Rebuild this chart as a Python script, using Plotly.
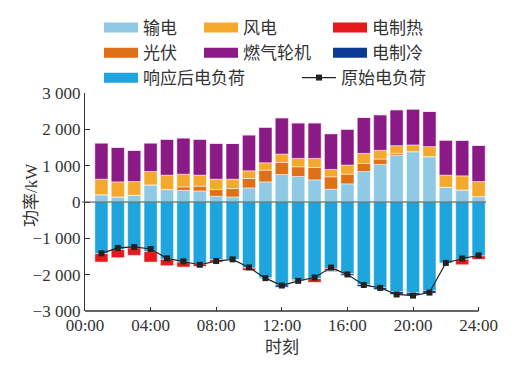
import plotly.graph_objects as go

hours = list(range(1, 25))
transmission = [200, 139, 185, 471, 342, 323, 305, 157, 139, 388, 554, 757,
                702, 609, 351, 499, 840, 1034, 1293, 1385, 1247, 406, 332, 148]
pv = [0, 0, 0, 0, 0, 92, 129, 185, 230, 258, 323, 333,
      268, 342, 342, 267, 222, 148, 46, 0, 0, 0, 0, 0]
wind = [428, 415, 378, 369, 397, 351, 305, 286, 259, 213, 203, 230,
        230, 249, 203, 250, 277, 240, 212, 185, 277, 333, 388, 415]
gas = [997, 951, 859, 785, 988, 998, 988, 988, 988, 988, 979, 998,
       979, 979, 978, 988, 988, 979, 988, 988, 969, 969, 979, 997]
load_after = [-1422, -1311, -1265, -1367, -1579, -1653, -1708, -1588, -1579, -1819, -2087, -2281,
              -2142, -2110, -1828, -1976, -2271, -2355, -2465, -2493, -2438, -1681, -1579, -1487]
heating = [-231, -222, -203, -286, -175, -138, -65, -65, 0, -65, 0, 0,
           0, -100, -60, 0, 0, 0, 0, 0, 0, 0, -147, -90]
cooling = [0, 0, 0, 0, 0, 0, 0, 0, 0, 0, -20, -64,
           -20, 0, -25, -46, -55, -55, -80, -70, -74, 0, 0, 0]
load_orig = [-1413, -1265, -1237, -1293, -1551, -1634, -1727, -1625, -1579, -1800, -2096, -2299,
             -2170, -2078, -1805, -1994, -2285, -2364, -2545, -2576, -2493, -1676, -1555, -1470]

y_ticks = [-3000, -2000, -1000, 0, 1000, 2000, 3000]
y_ticktext = ["\u22123 000", "\u22122 000", "\u22121 000", "0", "1 000", "2 000", "3 000"]
x_ticks = [0, 4, 8, 12, 16, 20, 24]
x_ticktext = ["00:00", "04:00", "08:00", "12:00", "16:00", "20:00", "24:00"]

C_TRANS = "#8fc9e3"
C_PV = "#e07018"
C_WIND = "#f5a92c"
C_GAS = "#8b1a87"
C_HEAT = "#e6191c"
C_COOL = "#0b3a94"
C_LOAD = "#1fa5dd"

CJK = "Liberation Serif, Noto Sans CJK SC"
TXT = "#333333"

fig = go.Figure()

bar_line = dict(color="rgba(255,255,255,0.8)", width=0.6)

def add_bar(y, color, name):
    fig.add_trace(go.Bar(x=hours, y=y, name=name, marker=dict(color=color, line=bar_line),
                         width=0.8, showlegend=False))

add_bar(transmission, C_TRANS, "输电")
add_bar(pv, C_PV, "光伏")
add_bar(wind, C_WIND, "风电")
add_bar(gas, C_GAS, "燃气轮机")
add_bar(load_after, C_LOAD, "响应后电负荷")
add_bar(heating, C_HEAT, "电制热")
add_bar(cooling, C_COOL, "电制冷")

fig.add_trace(go.Scatter(x=hours, y=load_orig, mode="lines+markers", name="原始电负荷",
                         line=dict(color="#222222", width=1.2),
                         marker=dict(symbol="square", size=6, color="#222222"),
                         legend="legend4"))

def add_swatch(color, name, legend):
    fig.add_trace(go.Scatter(x=[None], y=[None], mode="lines", name=name,
                             line=dict(color=color, width=11), legend=legend))

add_swatch(C_TRANS, "输电", "legend")
add_swatch(C_PV, "光伏", "legend")
add_swatch(C_LOAD, "响应后电负荷", "legend")
add_swatch(C_WIND, "风电", "legend2")
add_swatch(C_GAS, "燃气轮机", "legend2")
add_swatch(C_HEAT, "电制热", "legend3")
add_swatch(C_COOL, "电制冷", "legend3")

W, H = 527, 368
leg_common = dict(xref="container", yref="container", xanchor="left", yanchor="top",
                  orientation="v", bgcolor="rgba(0,0,0,0)", borderwidth=0,
                  font=dict(family=CJK, size=17, color=TXT), itemwidth=34,
                  tracegroupgap=0)

fig.update_layout(
    width=W, height=H,
    margin=dict(l=77, r=49, t=85, b=65, autoexpand=False),
    plot_bgcolor="white", paper_bgcolor="white",
    barmode="relative", bargap=0.2,
    legend=dict(x=91 / W, y=1 - 2 / H, **leg_common),
    legend2=dict(x=191 / W, y=1 - 2 / H, **leg_common),
    legend3=dict(x=320 / W, y=1 - 2 / H, **leg_common),
    legend4=dict(x=289 / W, y=1 - 52 / H, **leg_common),
    xaxis=dict(range=[0, 24.45], tickvals=x_ticks, ticktext=x_ticktext,
               ticks="inside", ticklen=4, tickwidth=1.2, tickcolor="#333",
               showline=False, showgrid=False, zeroline=False, automargin=False,
               ticklabelstandoff=2,
               tickfont=dict(family="Liberation Serif", size=17, color=TXT)),
    yaxis=dict(range=[-3000, 3000], tickvals=y_ticks, ticktext=y_ticktext,
               ticks="inside", ticklen=5, tickwidth=1.2, tickcolor="#333",
               showline=True, linecolor="#333", linewidth=1.3,
               showgrid=False, zeroline=False, automargin=False,
               tickfont=dict(family="Liberation Serif", size=17, color=TXT)),
    shapes=[
        dict(type="line", xref="x", yref="paper", x0=0, x1=24, y0=0, y1=0,
             line=dict(color="#333", width=1.3), layer="above"),
        dict(type="line", xref="paper", yref="y", x0=-3 / 401, x1=1.0, y0=0, y1=0,
             line=dict(color="rgba(90,90,90,0.75)", width=1.5), layer="above"),
    ],
    annotations=[
        dict(text="功率/kW", xref="paper", yref="paper", x=-54 / 401, y=0.5 + 7 / 218,
             textangle=-90, showarrow=False, xanchor="center", yanchor="middle",
             font=dict(family=CJK, size=17, color=TXT)),
        dict(text="时刻", xref="x", yref="paper", x=12, y=-36 / 218,
             showarrow=False, xanchor="center", yanchor="middle",
             font=dict(family=CJK, size=17, color=TXT)),
    ],
)

fig.write_html("out.html")
